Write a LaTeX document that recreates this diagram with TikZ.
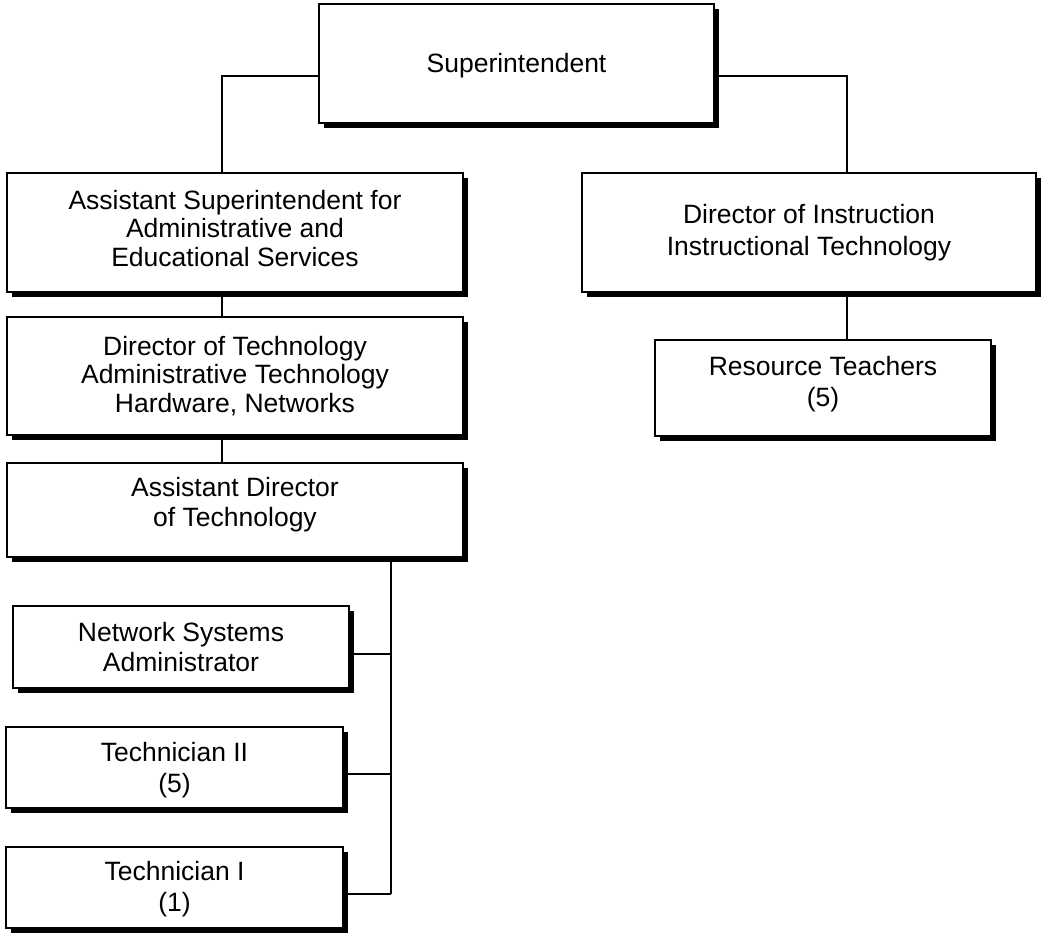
\documentclass[tikz,border=0pt]{standalone}
\usepackage{fontspec}
\setmainfont{Liberation Sans}
\usetikzlibrary{shadows}
\begin{document}
\begin{tikzpicture}[x=1pt,y=1pt,
  orgbox/.style={draw, fill=white, line width=1.1pt, inner sep=0pt,
    drop shadow={shadow xshift=5pt, shadow yshift=-5pt, fill=black, opacity=1}},
  boxtext/.style={align=center, inner sep=0pt, font=\fontsize{26.5}{#1}\selectfont},
  boxtext/.default=28.5,
  link/.style={line width=1.1pt}]
\useasboundingbox (0,0) rectangle (1041,-935);

% boxes (centre, width, height) with their captions
\node[orgbox, minimum width=395pt, minimum height=119pt,
  label={[boxtext, yshift=-2pt]center:{Superintendent}}] (Supt) at (516.5,-63.5) {};
\node[orgbox, minimum width=456pt, minimum height=119pt,
  label={[boxtext, yshift=4pt]center:{Assistant Superintendent for\\Administrative and\\Educational Services}}]
  (AsstSupt) at (235,-232.5) {};
\node[orgbox, minimum width=456pt, minimum height=118pt,
  label={[boxtext]center:{Director of Technology\\Administrative Technology\\Hardware, Networks}}]
  (DirTech) at (235,-376) {};
\node[orgbox, minimum width=456pt, minimum height=94pt,
  label={[boxtext=30, yshift=5pt]center:{Assistant Director\\of Technology}}]
  (AsstDir) at (235,-510) {};
\node[orgbox, minimum width=336pt, minimum height=82pt,
  label={[boxtext=30]center:{Network Systems\\Administrator}}]
  (NetSys) at (181,-647) {};
\node[orgbox, minimum width=337pt, minimum height=81pt,
  label={[boxtext=31, yshift=-3pt]center:{Technician II\\(5)}}]
  (TechII) at (174.5,-767.5) {};
\node[orgbox, minimum width=337pt, minimum height=81pt,
  label={[boxtext=31, yshift=-2pt]center:{Technician I\\(1)}}]
  (TechI) at (174.5,-887.5) {};
\node[orgbox, minimum width=454pt, minimum height=119pt,
  label={[boxtext=32]center:{Director of Instruction\\Instructional Technology}}]
  (DirInstr) at (809,-232.5) {};
\node[orgbox, minimum width=336pt, minimum height=96pt,
  label={[boxtext=31, yshift=3.5pt]center:{Resource Teachers\\(5)}}]
  (ResTeach) at (823,-388) {};

% connector routing points
\coordinate (jL) at (222,-76);
\coordinate (jR) at (847,-76);
\coordinate (bus) at (391,-894);

\draw[link] (Supt.west |- jL) -- (jL) -- (jL |- AsstSupt.north);
\draw[link] (Supt.east |- jR) -- (jR) -- (jR |- DirInstr.north);
\draw[link] (jL |- AsstSupt.south) -- (jL |- DirTech.north);
\draw[link] (jL |- DirTech.south) -- (jL |- AsstDir.north);
\draw[link] (jR |- DirInstr.south) -- (jR |- ResTeach.north);
\draw[link] (bus |- AsstDir.south) -- (bus);
\draw[link] ([yshift=-7pt]NetSys.east) -| (bus);
\draw[link] ([yshift=-6.5pt]TechII.east) -| (bus);
\draw[link] ([yshift=-6.5pt]TechI.east) -- (bus);
\end{tikzpicture}
\end{document}
